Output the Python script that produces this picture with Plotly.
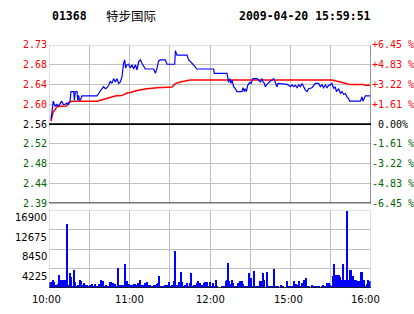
import plotly.graph_objects as go

# ---------------- data ----------------
stock_code = "01368"
stock_name = "特步国际"
stamp = "2009-04-20 15:59:51"
prev_close = 2.56

price_ticks = ["2.73", "2.68", "2.64", "2.60", "2.56", "2.52", "2.48", "2.44", "2.39"]
pct_ticks = ["+6.45 %", "+4.83 %", "+3.22 %", "+1.61 %", "\u00a00.00%", "-1.61 %", "-3.22 %", "-4.83 %", "-6.45 %"]
vol_ticks = ["16900", "12675", "8450", "4225"]
vol_tick_vals = [16900, 12675, 8450, 4225]
time_labels = ["10:00", "11:00", "12:00", "15:00", "16:00"]
time_label_min = [0, 60, 120, 180, 240]

# minutes since 10:00 (lunch break removed)
price_min = [1.5, 2.2, 3.2, 4.5, 5.7, 7.0, 8.2, 9.4, 10.7, 11.9, 13.2, 14.4, 15.7, 16.4, 18.4, 18.9,
             19.6, 20.9, 21.4, 22.1, 22.6, 23.4, 24.6, 35.8, 37.0, 38.3, 39.5, 40.7, 42.0, 43.2, 44.5,
             45.7, 46.9, 48.2, 49.4, 50.7, 51.9, 53.2, 54.4, 55.6, 56.4, 57.1, 58.1, 59.4, 60.6, 61.9,
             63.1, 64.4, 65.6, 66.8, 68.1, 69.3, 71.8, 78.0, 79.3, 80.5, 81.7, 83.0, 86.7, 88.0, 93.7,
             94.2, 95.4, 102.9, 104.1, 106.6, 107.8, 110.3, 122.7, 123.2, 132.7, 133.2, 133.9, 134.7,
             135.6, 136.4, 137.6, 138.9, 140.1, 143.8, 144.6, 145.6, 146.3, 147.1, 148.1, 149.6, 150.6,
             152.0, 155.0, 156.3, 157.5, 158.8, 159.5, 160.5, 161.2, 162.5, 163.7, 165.0, 166.2, 167.5,
             168.7, 169.9, 170.7, 177.4, 178.6, 179.9, 181.1, 182.4, 183.6, 184.9, 186.1, 187.3, 188.6,
             189.8, 191.1, 192.3, 193.5, 196.0, 198.5, 201.0, 202.2, 203.5, 204.7, 206.0, 207.2, 208.5,
             209.7, 210.9, 212.2, 213.4, 214.2, 215.9, 217.2, 218.4, 219.6, 220.9, 222.1, 223.4, 224.1,
             232.1, 233.3, 234.0, 235.0, 235.8, 239.5]
price_val = [2.570, 2.587, 2.608, 2.597, 2.601, 2.597, 2.604, 2.608, 2.601, 2.601, 2.604, 2.601, 2.608, 2.628, 2.628, 2.610,
             2.628, 2.628, 2.610, 2.620, 2.610, 2.610, 2.619, 2.619, 2.624, 2.628, 2.634, 2.638, 2.634, 2.636, 2.641,
             2.650, 2.645, 2.655, 2.648, 2.655, 2.645, 2.648, 2.659, 2.687, 2.694, 2.677, 2.684, 2.685, 2.677, 2.684,
             2.675, 2.684, 2.673, 2.690, 2.694, 2.687, 2.675, 2.675, 2.666, 2.677, 2.692, 2.694, 2.694, 2.685, 2.685,
             2.713, 2.704, 2.704, 2.694, 2.687, 2.683, 2.675, 2.675, 2.666, 2.666, 2.655, 2.647, 2.655,
             2.645, 2.652, 2.638, 2.634, 2.628, 2.628, 2.636, 2.628, 2.634, 2.628, 2.641, 2.647, 2.645,
             2.655, 2.655, 2.652, 2.648, 2.655, 2.648, 2.645, 2.638, 2.643, 2.647, 2.650, 2.652, 2.655,
             2.647, 2.638, 2.645, 2.643, 2.641, 2.638, 2.642, 2.638, 2.641, 2.636, 2.642, 2.638, 2.645,
             2.638, 2.631, 2.628, 2.634, 2.636, 2.645, 2.645, 2.638, 2.642, 2.636, 2.642, 2.636, 2.641,
             2.642, 2.645, 2.634, 2.638, 2.628, 2.634, 2.624, 2.628, 2.622, 2.624, 2.617, 2.613, 2.608,
             2.608, 2.617, 2.608, 2.617, 2.619, 2.619]

avg_min = [1.5, 3.0, 4.5, 6.0, 13.0, 14.7, 17.0, 36.0, 38.3, 42.0, 45.7, 50.0, 53.0, 55.6, 58.0, 60.6,
           65.6, 73.0, 80.5, 91.7, 93.0, 94.2, 97.9, 105.3, 211.0, 212.2, 217.2, 222.1, 224.6, 234.6, 235.8, 239.5]
avg_val = [2.566, 2.585, 2.590, 2.597, 2.598, 2.605, 2.608, 2.608, 2.610, 2.613, 2.615, 2.619, 2.619, 2.621, 2.625, 2.626,
           2.630, 2.634, 2.636, 2.6375, 2.641, 2.6445, 2.648, 2.652, 2.652, 2.651, 2.648, 2.6445, 2.6425, 2.6425, 2.641, 2.641]

vol_min = [0.5, 1.2, 2.2, 3.0, 4.0, 5.5, 6.5, 7.5, 9.0, 10.0, 10.9, 12.2, 12.9, 13.7, 14.4, 15.4, 16.4, 17.4,
           18.6, 19.6, 20.9, 21.9, 22.9, 24.1, 24.8, 25.8, 27.1, 28.3, 30.1, 30.8, 31.8, 33.3, 34.5, 35.8,
           37.0, 37.8, 39.0, 40.3, 41.2, 42.7, 43.7, 45.2, 46.2, 47.7, 49.0, 50.2, 51.4, 52.7, 53.7, 55.2,
           56.9, 57.6, 58.4, 59.4, 60.6, 62.1, 63.1, 64.1, 65.6, 66.6, 67.6, 68.6, 69.6, 70.6, 71.8, 73.0,
           74.3, 75.5, 76.8, 78.0, 79.3, 80.7, 81.5, 82.2, 83.2, 84.2, 85.5, 86.7, 87.5, 88.5, 89.4, 90.7,
           91.9, 93.2, 94.2, 94.9, 96.1, 97.1, 98.1, 99.1, 100.4, 101.6, 102.9, 104.1, 104.8, 106.1, 107.1,
           108.1, 109.1, 110.3, 111.3, 112.3, 113.3, 114.3, 115.3, 116.3, 117.3, 118.0, 119.3, 120.3,
           121.2, 122.5, 123.7, 124.5, 125.5, 128.7, 129.9, 130.7, 131.7, 132.4, 133.7, 134.4, 135.4,
           136.2, 137.4, 138.6, 139.9, 141.1, 142.4, 143.6, 144.8, 146.1, 147.3, 149.1, 150.3, 151.5,
           152.8, 154.0, 154.8, 156.0, 157.3, 158.5, 159.3, 160.5, 162.2, 163.5, 164.7, 166.0, 167.7,
           169.0, 169.7, 170.9, 172.7, 174.2, 177.1, 178.4, 179.6, 181.1, 182.9, 183.8, 185.1, 186.3,
           187.6, 188.6, 190.1, 191.3, 192.5, 193.8, 195.8, 197.5, 198.3, 199.5, 201.5, 203.2, 204.5,
           205.7, 207.0, 208.7, 209.7, 210.7, 211.4, 212.7, 213.7, 214.7, 215.9, 216.9, 218.1, 219.4,
           220.6, 221.4, 222.4, 223.4, 224.4, 225.1, 226.1, 226.8, 227.6, 228.6, 229.8, 230.8, 231.8,
           232.5, 233.5, 234.5, 235.5, 236.8, 237.8, 238.8, 239.8]
vol_val = [1300, 1300, 1300, 1730, 1300, 580, 870, 2800, 1730, 1730, 1730, 580, 1730, 13860, 580, 3250, 2380, 430,
           3900, 1300, 430, 720, 1730, 1500, 580, 1010, 650, 580, 430, 720, 870, 430, 870, 430,
           870, 580, 1730, 1440, 430, 580, 430, 1300, 1300, 1010, 800, 430, 4330, 580, 720, 580,
           5200, 1160, 1500, 940, 720, 720, 870, 870, 720, 1010, 1730, 430, 580, 720, 1160, 1300,
           650, 580, 430, 720, 650, 870, 1160, 2600, 430, 430, 430, 580, 720, 580, 1300, 430,
           580, 1440, 8000, 580, 720, 1300, 3470, 1300, 430, 720, 1010, 430, 1010, 3250, 430,
           580, 720, 1010, 1440, 1010, 430, 720, 1160, 1300, 1010, 1300, 430, 1300,
           505, 1080, 505, 1660, 505, 505, 505, 505, 1440, 1800, 5490, 1440, 940,
           1800, 1080, 505, 505, 1080, 1440, 1440, 940, 505, 505, 3250, 2170, 505,
           3610, 505, 505, 505, 1440, 1440, 3250, 1800, 3400, 505, 505, 505, 4190,
           505, 505, 505, 720, 505, 1440, 505, 505, 505, 1440, 940, 720, 1590,
           505, 1080, 1800, 2240, 505, 505, 720, 505, 505, 505, 505, 505, 720,
           505, 1080, 1080, 720, 505, 2670, 5270, 2890, 2890, 2890, 2380, 1660, 5270,
           1800, 1800, 16750, 1800, 3820, 3970, 1800, 2530, 1800, 1800, 1440, 1440, 505,
           3400, 3400, 1800, 505, 940, 1800, 1440, 1440]

assert len(price_min) == len(price_val)
assert len(avg_min) == len(avg_val)
assert len(vol_min) == len(vol_val)

# ---------------- layout helpers ----------------
W, H = 414, 314
def px(x): return x / W
def py(y): return 1 - y / H

LEFT, RIGHT = 49, 371
P_TOP, P_BOT = 45, 203.3
V_TOP, V_BOT = 210, 288

half = prev_close * 0.0645
p_lo, p_hi = prev_close - half, prev_close + half
step = half / 4
grid_prices = [prev_close + step * k for k in range(4, -5, -1)]

RED, BLACK, GREEN = "#ff0000", "#000000", "#006400"
label_colors = [RED] * 4 + [BLACK] + [GREEN] * 4
GRID = "#c0c0c0"
MONO = "DejaVu Sans Mono"
SANS = "DejaVu Sans"
time_label_shift = [-3, 0, 0, -2, -6]

fig = go.Figure()
fig.add_trace(go.Scatter(x=avg_min, y=avg_val, mode="lines", line=dict(color="#ff0000", width=1.5),
                         xaxis="x", yaxis="y", hoverinfo="skip"))
fig.add_trace(go.Scatter(x=price_min, y=price_val, mode="lines", line=dict(color="#0000ff", width=1.2),
                         xaxis="x", yaxis="y", hoverinfo="skip"))
fig.add_trace(go.Bar(x=vol_min, y=vol_val, width=0.75, marker=dict(color="#0000ff", line=dict(width=0)),
                     xaxis="x2", yaxis="y2", hoverinfo="skip"))

xgrid = list(range(0, 241, 30))
axis_common = dict(showgrid=True, gridcolor=GRID, gridwidth=1, zeroline=False, showticklabels=False,
                   ticks="", showline=False, fixedrange=True)
fig.update_layout(
    width=W, height=H, margin=dict(l=0, r=0, t=0, b=0),
    paper_bgcolor="white", plot_bgcolor="white", showlegend=False, bargap=0,
    xaxis=dict(domain=[px(LEFT), px(RIGHT)], range=[0, 240], tickvals=xgrid, anchor="y", **axis_common),
    yaxis=dict(domain=[py(P_BOT), py(P_TOP)], range=[p_lo, p_hi], tickvals=grid_prices, anchor="x", **axis_common),
    xaxis2=dict(domain=[px(LEFT), px(RIGHT)], range=[0, 240], tickvals=xgrid, anchor="y2", **axis_common),
    yaxis2=dict(domain=[py(V_BOT), py(V_TOP)], range=[0, 16900], tickvals=[0] + vol_tick_vals, anchor="x2", **axis_common),
)

shapes = []
# borders
shapes.append(dict(type="rect", xref="x", yref="y", x0=0, x1=240, y0=p_lo, y1=p_hi, line=dict(color=GRID, width=1)))
shapes.append(dict(type="rect", xref="x2", yref="y2", x0=0, x1=240, y0=0, y1=16900, line=dict(color=GRID, width=1)))
shapes.append(dict(type="line", xref="x", yref="y", x0=240, x1=240, y0=p_lo, y1=p_hi, line=dict(color="#707070", width=1.3)))
# black lines
shapes.append(dict(type="line", xref="x", yref="y", x0=0, x1=240, y0=prev_close, y1=prev_close, line=dict(color="black", width=1.6)))
shapes.append(dict(type="line", xref="x", yref="y", x0=0, x1=240, y0=p_lo, y1=p_lo, line=dict(color="black", width=1.6)))
shapes.append(dict(type="line", xref="x2", yref="y2", x0=0, x1=240, y0=0, y1=0, line=dict(color="black", width=1.6)))
fig.update_layout(shapes=shapes)

ann = []
# header
ann.append(dict(x=px(50), y=py(16), xref="paper", yref="paper", xanchor="left", yanchor="middle", showarrow=False,
                text="<b>" + stock_code + "</b>", font=dict(family=MONO, size=11.5, color="black")))
ann.append(dict(x=px(104), y=py(16), xref="paper", yref="paper", xanchor="left", yanchor="middle", showarrow=False,
                text=stock_name, font=dict(family="Noto Sans CJK SC", size=12.5, color="black")))
ann.append(dict(x=px(237), y=py(16), xref="paper", yref="paper", xanchor="left", yanchor="middle", showarrow=False,
                text="<b>" + stamp + "</b>", font=dict(family=MONO, size=11.5, color="black")))
# price / percent labels
for gp, lab, pct, col in zip(grid_prices, price_ticks, pct_ticks, label_colors):
    ann.append(dict(x=px(LEFT), y=gp, xref="paper", yref="y", xanchor="right", yanchor="middle", showarrow=False,
                    text=lab, font=dict(family=MONO, size=10, color=col)))
    ann.append(dict(x=px(RIGHT - 1), y=gp, xref="paper", yref="y", xanchor="left", yanchor="middle", showarrow=False,
                    text=pct, font=dict(family=MONO, size=10, color=col)))
# volume labels
for v, lab in zip(vol_tick_vals, vol_ticks):
    ann.append(dict(x=px(LEFT), y=v, xref="paper", yref="y2", xanchor="right", yanchor="top", showarrow=False,
                    text=lab, font=dict(family=SANS, size=10, color="black")))
# time labels
for m, lab, sh in zip(time_label_min, time_labels, time_label_shift):
    ann.append(dict(x=m, y=py(299), xref="x2", yref="paper", xanchor="center", yanchor="middle", showarrow=False,
                    xshift=sh, text=lab, font=dict(family=SANS, size=10, color="black")))
fig.update_layout(annotations=ann)

fig.write_html("out.html", config={"displayModeBar": False})
